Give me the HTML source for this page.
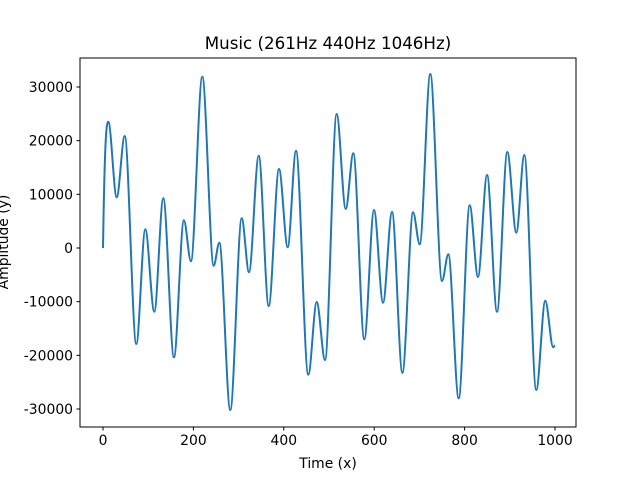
<!DOCTYPE html>
<html><head><meta charset="utf-8"><style>
body{margin:0;background:#fff}
svg text{font-family:"DejaVu Sans","Liberation Sans",sans-serif;fill:#000}
</style></head><body>
<svg id="chart" width="640" height="480" viewBox="0 0 640 480" xmlns="http://www.w3.org/2000/svg">
<rect width="640" height="480" fill="#fff"/>
<text x="328" y="49" font-size="16.7" text-anchor="middle">Music (261Hz 440Hz 1046Hz)</text>
<text x="328" y="468" font-size="13.9" text-anchor="middle">Time (x)</text>
<text transform="translate(8,242) rotate(-90)" font-size="13.9" text-anchor="middle">Amplitude (y)</text>
<g id="ticks"></g>
<path id="line" fill="none" stroke="#1f77b4" stroke-width="2"/>
<rect x="80" y="58" width="496" height="369" fill="none" stroke="#000" stroke-width="1"/>
</svg>
<script>
const xs = [0,11.7,30.3,48,73.7,93.6,113.5,133.4,157,179,194.5,219.7,244.9,257.3,281.6,306.9,323,344.5,366.6,389.4,408.6,427,454.2,472.8,491.2,517,537,553.8,578.1,599.6,619.5,639.4,662.4,686,700.7,724.1,750,764,786.9,811.3,829.6,849.6,871.7,894.5,914.4,932.1,958.6,978.5,996,1000];
const ys = [0,23534,9447,20870,-17888,3484,-11870,9261,-20367,5161,-2478,31920,-3298,988,-30186,5534,-4528,17199,-10807,14720,130,18130,-23609,-10062,-20870,24969,7267,17646,-17013,7081,-10193,6708,-23236,6652,689,32422,-6149,-1174,-28006,7957,-5404,13602,-11870,17888,2851,17329,-26459,-9820,-18500,-18200];
const xTicks = [0,200,400,600,800,1000];
const yTicks = [-30000,-20000,-10000,0,10000,20000,30000];
const X = v => 103 + v*0.452;
const Y = v => 248 - v*161/30000;
const NS = "http://www.w3.org/2000/svg";
const g = document.getElementById('ticks');
function mk(tag, attrs){const e=document.createElementNS(NS,tag);for(const k in attrs)e.setAttribute(k,attrs[k]);return e;}
xTicks.forEach(t=>{
  const l=mk('line',{x1:X(t),x2:X(t),y1:427,y2:430.5,stroke:'#000'});
  
  
  g.appendChild(l);
  const tx=mk('text',{x:X(t),y:445,'font-size':'13.9','text-anchor':'middle'});
  
  
  tx.textContent=t; g.appendChild(tx);
});
yTicks.forEach(t=>{
  const l=mk('line',{x1:76.5,x2:80,y1:Y(t),y2:Y(t),stroke:'#000'});
  
  
  g.appendChild(l);
  const tx=mk('text',{x:73,y:Y(t)+5,'font-size':'13.9','text-anchor':'end'});
  
  
  tx.textContent=t; g.appendChild(tx);
});
let d='M'+X(xs[0])+','+Y(ys[0]);
for(let i=1;i<xs.length;i++){
  const x0=X(xs[i-1]),y0=Y(ys[i-1]),x1=X(xs[i]),y1=Y(ys[i]);
  const dx=(x1-x0)/3;
  let c1y=y0, c2y=y1;
  if(i===1){c1y=y0+(y1-y0)*0.9;}
  if(i===xs.length-1){c2y=y1; c1y=y0;}
  d+=' C'+(x0+dx)+','+c1y+' '+(x1-dx)+','+c2y+' '+x1+','+y1;
}
document.getElementById('line').setAttribute('d',d);
</script>
</body></html>
